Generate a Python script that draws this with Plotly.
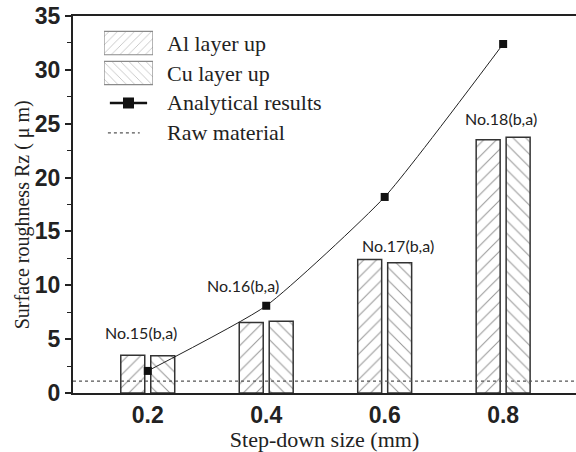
import plotly.graph_objects as go

step_down = [0.2, 0.4, 0.6, 0.8]
tick_labels = ["0.2", "0.4", "0.6", "0.8"]
al_layer_up = [3.5, 6.55, 12.4, 23.5]
cu_layer_up = [3.45, 6.65, 12.1, 23.75]
analytical = [2.05, 8.1, 18.2, 32.4]
raw_material = 1.1
sample_labels = ["No.15(b,a)", "No.16(b,a)", "No.17(b,a)", "No.18(b,a)"]
label_x = [0.189, 0.361, 0.622, 0.797]
label_heights = [5.66, 10.0, 13.7, 25.5]
legend_names = ["Al layer up", "Cu layer up", "Analytical results", "Raw material"]

X_RANGE = [0.0738, 0.923]
Y_RANGE = [0, 35]
DARK = "#222222"

fig = go.Figure()

# raw material reference line (drawn first so bars sit on top)
fig.add_trace(go.Scatter(
    x=X_RANGE, y=[raw_material, raw_material], mode="lines",
    line=dict(color="#555555", width=1.2, dash="dot"), hoverinfo="skip",
))

bar_line = dict(color="#333333", width=1.5)
fig.add_trace(go.Bar(
    x=step_down, y=al_layer_up, name=legend_names[0],
    marker=dict(color="white", line=bar_line,
                pattern=dict(shape="/", size=9, solidity=0.12,
                             fgcolor="#333333", bgcolor="white")),
))
fig.add_trace(go.Bar(
    x=step_down, y=cu_layer_up, name=legend_names[1],
    marker=dict(color="white", line=bar_line,
                pattern=dict(shape="\\", size=9, solidity=0.12,
                             fgcolor="#333333", bgcolor="white")),
))
fig.add_trace(go.Scatter(
    x=step_down, y=analytical, mode="lines+markers", name=legend_names[2],
    line=dict(color=DARK, width=1, shape="spline", smoothing=0.5),
    marker=dict(symbol="square", size=8, color="#111111"),
))

for x, y, t in zip(label_x, label_heights, sample_labels):
    fig.add_annotation(x=x, y=y, text=t, showarrow=False,
                       font=dict(family="Lato", size=16, color=DARK))

# ---- custom legend (keys drawn in a small inset axis) ----
fig.add_trace(go.Bar(
    x=[1, 1], y=[0, 1], orientation="h", width=0.78, offset=-0.39,
    xaxis="x2", yaxis="y2", showlegend=False, hoverinfo="skip",
    marker=dict(color="white", line=dict(color="#8a8a8a", width=1.2),
                pattern=dict(shape=["/", "\\"], size=6, solidity=0.15,
                             fgcolor="#8a8a8a", bgcolor="white")),
))
fig.add_trace(go.Scatter(
    x=[0.12, 0.5, 0.88], y=[2, 2, 2], mode="lines", xaxis="x2", yaxis="y2",
    showlegend=False, hoverinfo="skip", line=dict(color="#111111", width=2.5),
))
fig.add_trace(go.Scatter(
    x=[0.5], y=[2], mode="markers", xaxis="x2", yaxis="y2",
    showlegend=False, hoverinfo="skip",
    marker=dict(symbol="square", size=11, color="#111111"),
))
fig.add_trace(go.Scatter(
    x=[0.08, 0.73], y=[3, 3], mode="lines", xaxis="x2", yaxis="y2",
    showlegend=False, hoverinfo="skip",
    line=dict(color="#555555", width=1.2, dash="dot"),
))
for i, name in enumerate(legend_names):
    fig.add_annotation(x=0.182, xref="paper", y=i, yref="y2", text=name,
                       xanchor="left", showarrow=False,
                       font=dict(family="Liberation Serif", size=22, color=DARK))

# y-axis title (placed as in the original figure)
fig.add_annotation(x=-0.101, xref="paper", y=0.472, yref="paper",
                   text="Surface roughness Rz ( μ m)", textangle=-90,
                   showarrow=False, xanchor="center", yanchor="middle",
                   font=dict(family="Liberation Serif", size=20, color=DARK))

fig.update_layout(
    width=576, height=452,
    margin=dict(l=73, r=0, t=16, b=59),
    paper_bgcolor="white", plot_bgcolor="white",
    barmode="group", bargap=0.494, bargroupgap=0.2,
    showlegend=False,
    xaxis=dict(range=X_RANGE, tickvals=step_down, ticktext=tick_labels,
               showgrid=False, zeroline=False, ticks="",
               showline=True, linecolor=DARK, linewidth=2, mirror=True,
               tickfont=dict(family="Liberation Sans", size=23, color=DARK, weight="bold"),
               title=dict(text="Step-down size (mm)", standoff=4,
                          font=dict(family="Liberation Serif", size=22, color=DARK))),
    yaxis=dict(range=Y_RANGE, tickvals=[0, 5, 10, 15, 20, 25, 30, 35],
               showgrid=False, zeroline=False, ticks="outside", ticklen=6,
               tickwidth=1.5, tickcolor=DARK,
               minor=dict(dtick=2.5, ticks="outside", ticklen=4, tickwidth=1.2, tickcolor=DARK),
               showline=True, linecolor=DARK, linewidth=2,
               tickfont=dict(family="Liberation Sans", size=23, color=DARK, weight="bold")),
    xaxis2=dict(domain=[0.0616, 0.159], range=[0, 1], visible=False, anchor="y2"),
    yaxis2=dict(domain=[0.650, 0.968], range=[3.5, -0.5], visible=False, anchor="x2"),
)

fig.write_html("out.html", config={"displayModeBar": False},
               post_script="document.body.style.margin='0';")
